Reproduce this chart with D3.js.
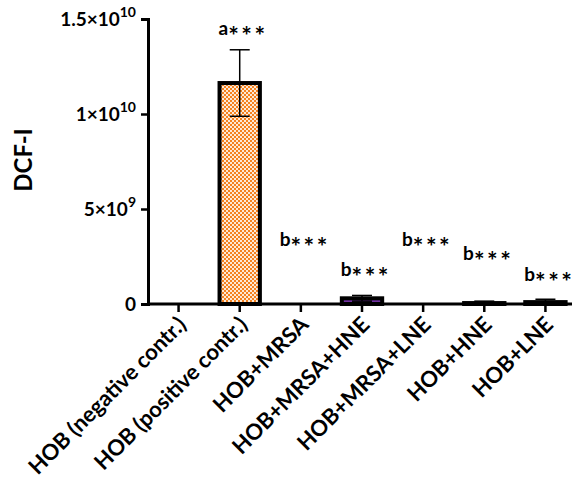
<!DOCTYPE html>
<html>
<head>
<meta charset="utf-8">
<script src="https://cdn.jsdelivr.net/npm/d3@7"></script>
<style>
  body { margin: 0; background: #fff; }
  svg { display: block; font-family: Lato, "Open Sans", sans-serif; font-weight: 700; }
</style>
</head>
<body>
<div id="chart"></div>
<script>
// groups on the x axis
const groups = [
  "HOB (negative contr.)",
  "HOB (positive contr.)",
  "HOB+MRSA",
  "HOB+MRSA+HNE",
  "HOB+MRSA+LNE",
  "HOB+HNE",
  "HOB+LNE"
];
// mean DCF-I and SD
const means = [0, 1.163e10, 0, 3.0e8, 0, 5e7, 1.0e8];
const sds = [0, 0.175e10, 0, 1.5e8, 0, 1.0e8, 1.5e8];
// significance letters and where they sit (data units, baseline of letter)
const sigLetters = ["", "a", "b", "b", "b", "b", "b"];
const sigAt = [0, 1.416e10, 3.05e9, 1.47e9, 3.05e9, 2.32e9, 1.21e9];
const fills = ["#ffffff", "url(#checks)", "#c00000", "#7030a0", "#2f5597", "#548235", "#bf9000"];
const yTicks = [0, 5e9, 1e10, 1.5e10];

const width = 575;
const height = 482;

const svg = d3.select("#chart").append("svg")
  .attr("width", width)
  .attr("height", height);

// orange checker fill for the positive control
const pat = svg.append("defs").append("pattern")
  .attr("id", "checks")
  .attr("patternUnits", "userSpaceOnUse")
  .attr("width", 4)
  .attr("height", 4)
  .attr("shape-rendering", "crispEdges");
pat.append("rect").attr("width", 4).attr("height", 4).attr("fill", "#f5821f");
pat.append("rect").attr("width", 2).attr("height", 2).attr("fill", "#fde9d6");
pat.append("rect").attr("x", 2).attr("y", 2).attr("width", 2).attr("height", 2).attr("fill", "#fde9d6");

const x = d3.scaleBand()
  .domain(groups)
  .range([148, 576])
  .paddingInner(0.34)
  .paddingOuter(0.17);

const y = d3.scaleLinear()
  .domain([0, 1.5e10])
  .range([304, 19]);

// bars
svg.append("g")
  .selectAll("rect")
  .data(groups)
  .join("rect")
  .attr("x", d => x(d))
  .attr("width", x.bandwidth())
  .attr("y", (d, i) => y(means[i]))
  .attr("height", (d, i) => y(0) - y(means[i]))
  .attr("fill", (d, i) => fills[i])
  .attr("stroke", "#000")
  .attr("stroke-width", 4);

// error bars
const err = svg.append("g")
  .attr("stroke", "#000")
  .attr("stroke-width", 1.5)
  .selectAll("g")
  .data(groups.filter((d, i) => sds[i] > 0))
  .join("g")
  .attr("transform", d => `translate(${x(d) + x.bandwidth() / 2},0)`);

const hi = d => y(means[groups.indexOf(d)] + sds[groups.indexOf(d)]);
const lo = d => y(means[groups.indexOf(d)] - sds[groups.indexOf(d)]);
err.append("line").attr("y1", lo).attr("y2", hi);
err.append("line").attr("x1", -10).attr("x2", 10).attr("y1", hi).attr("y2", hi);
err.append("line").attr("x1", -10).attr("x2", 10).attr("y1", lo).attr("y2", lo);

// y axis
const yAxis = svg.append("g")
  .attr("transform", "translate(148,0)")
  .call(d3.axisLeft(y).tickValues(yTicks).tickSize(7).tickPadding(5).tickFormat(""))
  .attr("font-family", null)
  .attr("font-size", null);
yAxis.select(".domain").attr("stroke-width", 3);
yAxis.selectAll(".tick line").attr("stroke-width", 2.5);
yAxis.selectAll(".tick text").each(function (v) {
  const t = d3.select(this).attr("font-size", 19).attr("fill", "#000");
  if (v === 0) { t.text("0"); return; }
  const e = Math.floor(Math.log10(v));
  const m = +(v / Math.pow(10, e)).toFixed(2);
  t.append("tspan").text(m + "×10");
  t.append("tspan").attr("font-size", 14).attr("dy", "-0.6em").text(e);
});

// x axis
const xAxis = svg.append("g")
  .attr("transform", "translate(0,304)")
  .call(d3.axisBottom(x).tickSize(8).tickSizeOuter(0).tickFormat(""))
  .attr("font-family", null)
  .attr("font-size", null);
xAxis.select(".domain").attr("stroke-width", 3).attr("d", "M148,0H572");
xAxis.selectAll(".tick line").attr("stroke-width", 2.5);
xAxis.selectAll(".tick text")
  .text(d => d)
  .attr("font-size", 22)
  .attr("fill", "#000")
  .attr("text-anchor", "end")
  .attr("y", 0)
  .attr("dy", 0)
  .attr("transform", "translate(9,22) rotate(-45)");

// y label
svg.append("text")
  .attr("transform", "translate(32,160) rotate(-90)")
  .attr("text-anchor", "middle")
  .attr("font-size", 24)
  .text("DCF-I");

// significance marks
const sig = svg.append("g")
  .selectAll("text")
  .data(groups.filter((d, i) => sigLetters[i]))
  .join("text")
  .attr("x", d => x(d) - 1)
  .attr("y", d => y(sigAt[groups.indexOf(d)]))
  .attr("font-size", 19);
sig.append("tspan").text(d => sigLetters[groups.indexOf(d)]);
sig.append("tspan")
  .attr("dy", 10)
  .attr("font-size", 25)
  .attr("letter-spacing", 2.5)
  .text("***");
</script>
</body>
</html>
